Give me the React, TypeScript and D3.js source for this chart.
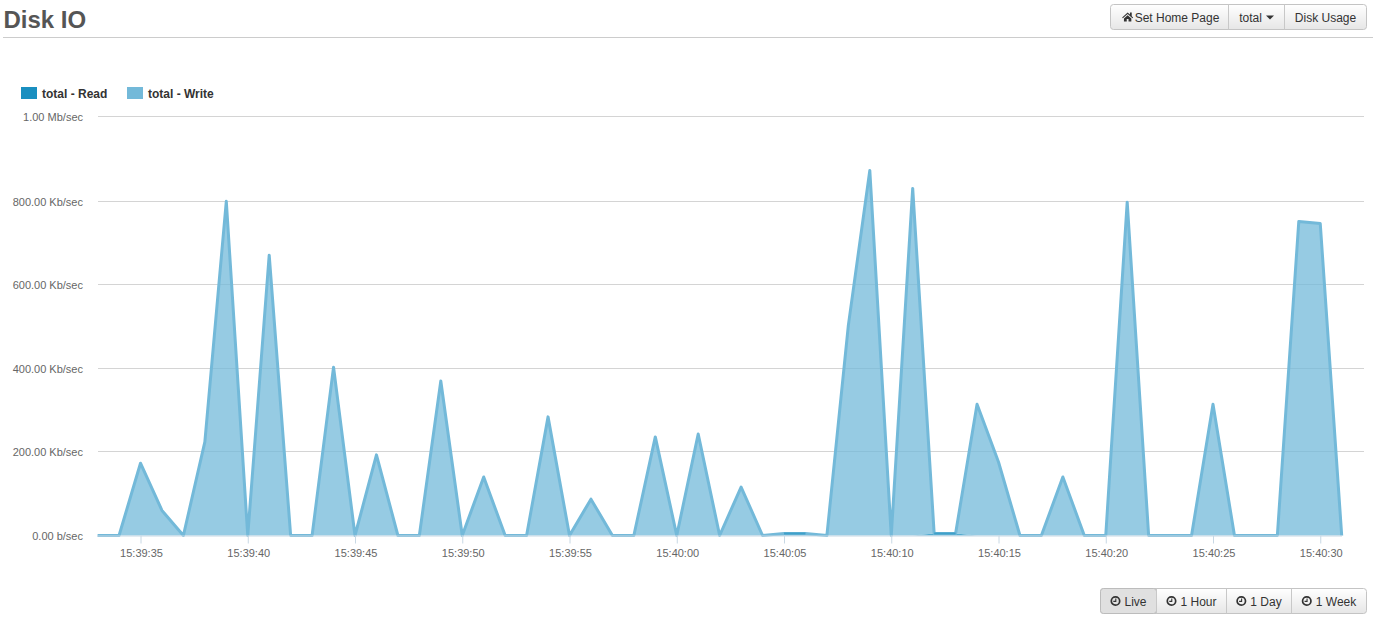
import React, { useRef, useEffect } from "react"
import * as d3 from "d3"

const startSecond = 33 // first sample is 15:39:33
const readKb = [
  0, 0, 0, 0, 0, 0, 0, 0, 0, 0, 0, 0, 0, 0, 0, 0, 0, 0, 0, 0,
  0, 0, 0, 0, 0, 0, 0, 0, 0, 0, 0, 0, 5, 5, 0, 0, 0, 0, 0, 5,
  5, 0, 0, 0, 0, 0, 0, 0, 0, 0, 0, 0, 0, 0, 0, 0, 0, 0, 0,
]
const writeKb = [
  0, 0, 173, 60, 0, 224, 800, 0, 671, 0, 0, 403, 0, 193, 0, 0, 370, 0, 140, 0,
  0, 284, 0, 87, 0, 0, 236, 0, 243, 0, 116, 0, 0, 0, 0, 503, 874, 0, 831, 0,
  0, 314, 176, 0, 0, 140, 0, 0, 798, 0, 0, 0, 314, 0, 0, 0, 752, 747, 0,
]
// the top tick sits a little above the even spacing in the picture
const yTicks = [0, 200, 400, 600, 800, 1002]
const xTickSeconds = [35, 40, 45, 50, 55, 60, 65, 70, 75, 80, 85, 90]
const topButtons = ["Set Home Page", "total", "Disk Usage"]
const topButtonEdges = [1110.5, 1228.5, 1284.5, 1366.5]
const rangeButtons = ["Live", "1 Hour", "1 Day", "1 Week"]
const rangeButtonEdges = [1100.5, 1156.5, 1226.5, 1291.5, 1366.5]

const sans = "'Liberation Sans', Arial, sans-serif"
const readColor = "#1a8fc0"
const writeColor = "#73b9d9"

const formatRate = (kb: number) =>
  kb >= 1000 ? `${(kb / 1000).toFixed(2)} Mb/sec` : kb === 0 ? "0.00 b/sec" : `${kb.toFixed(2)} Kb/sec`

const formatClock = (s: number) => {
  const minute = 39 + Math.floor(s / 60)
  return `15:${minute}:${String(s % 60).padStart(2, "0")}`
}

// bootstrap 3 style button group
const drawGroup = (
  svg: d3.Selection<SVGSVGElement, unknown, null, undefined>,
  labels: string[],
  edges: number[],
  top: number,
  activeIndex: number,
  trailing: number[],
  icon: (g: d3.Selection<SVGGElement, unknown, null, undefined>, i: number, cy: number) => number
) => {
  const height = 25
  const group = svg.append("g")
  const id = `grad-${top}`
  const grad = svg.append("defs").append("linearGradient").attr("id", id).attr("x2", 0).attr("y2", 1)
  grad.append("stop").attr("offset", 0).attr("stop-color", "#ffffff")
  grad.append("stop").attr("offset", 1).attr("stop-color", "#e6e6e6")

  group
    .append("rect")
    .attr("x", edges[0])
    .attr("y", top)
    .attr("width", edges[edges.length - 1] - edges[0])
    .attr("height", height)
    .attr("rx", 3)
    .attr("fill", `url(#${id})`)
    .attr("stroke", "#c4c4c4")

  labels.forEach((label, i) => {
    const x0 = edges[i]
    const x1 = edges[i + 1]
    if (i === activeIndex) {
      group
        .append("rect")
        .attr("x", x0)
        .attr("y", top)
        .attr("width", x1 - x0)
        .attr("height", height)
        .attr("rx", 3)
        .attr("fill", "#e0e0e0")
        .attr("stroke", "#bcbcbc")
    }
    if (i > 0) {
      group
        .append("line")
        .attr("x1", x0)
        .attr("x2", x0)
        .attr("y1", top)
        .attr("y2", top + height)
        .attr("stroke", "#c8c8c8")
    }
    const g = group.append("g").attr("transform", `translate(${(x0 + x1) / 2},0)`)
    const text = g
      .append("text")
      .attr("y", top + 17)
      .attr("font-family", sans)
      .attr("font-size", 12)
      .attr("fill", "#333")
      .text(label)
    const textWidth = (text.node() as SVGTextElement).getComputedTextLength()
    const extra = icon(g, i, top + height / 2)
    const left = -(textWidth + extra + trailing[i]) / 2
    g.selectAll(".icon").attr("transform", `translate(${left},0)`)
    text.attr("x", left + extra)
  })
}

const App: React.FC = () => {
  const svgRef = useRef<SVGSVGElement | null>(null)

  useEffect(() => {
    if (!svgRef.current) return
    const svg = d3.select(svgRef.current)
    svg.selectAll("*").remove()

    const x = d3
      .scaleLinear()
      .domain([startSecond, startSecond + writeKb.length - 1])
      .range([97.6, 1341.7])
    const y = d3.scaleLinear().domain([0, 1000]).range([535.5, 117.8])

    // header
    svg
      .append("text")
      .attr("x", 3.5)
      .attr("y", 28)
      .attr("font-family", sans)
      .attr("font-size", 24)
      .attr("font-weight", "bold")
      .attr("fill", "#555")
      .text("Disk IO")
    svg
      .append("line")
      .attr("x1", 3)
      .attr("x2", 1373)
      .attr("y1", 37.5)
      .attr("y2", 37.5)
      .attr("stroke", "#ccc")

    drawGroup(svg, topButtons, topButtonEdges, 4.5, -1, [0, 12, 0], (g, i, cy) => {
      if (i === 0) {
        g.append("path")
          .attr("class", "icon")
          .attr(
            "d",
            `M2.5 ${cy + 0.5}L8 ${cy - 4.5}L10.3 ${cy - 2.4}V${cy - 4.5}H12.1V${cy - 0.8}L13.5 ${cy + 0.5}L12.8 ${cy + 1.2}L8 ${cy - 3}L3.2 ${cy + 1.2}ZM4.3 ${cy + 1.5}L8 ${cy - 1.8}L11.7 ${cy + 1.5}V${cy + 4.5}H8.9V${cy + 2}H7.1V${cy + 4.5}H4.3Z`
          )
          .attr("fill", "#333")
        return 15
      }
      return 0
    })

    // caret of the "total" dropdown
    svg.append("path").attr("d", "M1266 15.5h8l-4 4z").attr("fill", "#333")

    drawGroup(svg, rangeButtons, rangeButtonEdges, 588.5, 0, [0, 0, 0, 0], (g, _i, cy) => {
      const ic = g.append("g").attr("class", "icon")
      ic.append("circle")
        .attr("cx", 5)
        .attr("cy", cy)
        .attr("r", 4.2)
        .attr("fill", "none")
        .attr("stroke", "#333")
        .attr("stroke-width", 1.7)
      ic.append("path")
        .attr("d", `M5.3 ${cy - 2.4}V${cy + 0.4}H2.8`)
        .attr("fill", "none")
        .attr("stroke", "#333")
        .attr("stroke-width", 1.1)
      return 14
    })

    // legend
    const legend = [
      { label: "total - Read", color: readColor, x: 21 },
      { label: "total - Write", color: writeColor, x: 127 },
    ]
    legend.forEach((d) => {
      svg
        .append("rect")
        .attr("x", d.x)
        .attr("y", 87)
        .attr("width", 16)
        .attr("height", 12)
        .attr("fill", d.color)
      svg
        .append("text")
        .attr("x", d.x + 21)
        .attr("y", 98)
        .attr("font-family", sans)
        .attr("font-size", 12)
        .attr("font-weight", "bold")
        .attr("fill", "#333")
        .text(d.label)
    })

    // grid goes under the areas
    svg
      .append("g")
      .selectAll("line")
      .data(yTicks.slice(1))
      .enter()
      .append("line")
      .attr("x1", 98)
      .attr("x2", 1364)
      .attr("y1", (d) => Math.floor(y(d)) + 0.5)
      .attr("y2", (d) => Math.floor(y(d)) + 0.5)
      .attr("stroke", "#d4d4d4")

    // stacked areas
    const seconds = writeKb.map((_, i) => startSecond + i)
    const area = d3
      .area<number>()
      .x((s) => x(s))
      .y0((s) => y(readKb[s - startSecond]))
      .y1((s) => y(readKb[s - startSecond] + writeKb[s - startSecond]))
    const readArea = d3
      .area<number>()
      .x((s) => x(s))
      .y0(y(0))
      .y1((s) => y(readKb[s - startSecond]))
    const writeLine = d3
      .line<number>()
      .x((s) => x(s))
      .y((s) => y(readKb[s - startSecond] + writeKb[s - startSecond]))
    // read is only drawn where it is above zero
    const readLine = d3
      .line<number>()
      .defined((s) => readKb[s - startSecond] > 0)
      .x((s) => x(s))
      .y((s) => y(readKb[s - startSecond]))

    svg.append("path").attr("d", readArea(seconds)).attr("fill", readColor).attr("fill-opacity", 0.75)
    svg.append("path").attr("d", area(seconds)).attr("fill", writeColor).attr("fill-opacity", 0.75)

    svg
      .append("path")
      .attr("d", writeLine(seconds))
      .attr("fill", "none")
      .attr("stroke", writeColor)
      .attr("stroke-width", 3)
      .attr("stroke-linejoin", "round")
    svg
      .append("path")
      .attr("d", readLine(seconds))
      .attr("fill", "none")
      .attr("stroke", readColor)
      .attr("stroke-width", 2)
      .attr("stroke-opacity", 0.6)

    // Y axis
    const yAxis = svg
      .append("g")
      .attr("transform", "translate(98,0)")
      .call(
        d3
          .axisLeft(y)
          .tickValues(yTicks)
          .tickFormat((d) => formatRate(+d))
          .tickSize(0)
          .tickPadding(15)
      )
    yAxis.select(".domain").remove()
    yAxis.selectAll("text").attr("font-family", sans).attr("font-size", 11).attr("fill", "#666").attr("y", 0.5)

    // X axis
    const xAxis = svg
      .append("g")
      .attr("transform", "translate(0,535.5)")
      .call(
        d3
          .axisBottom(x)
          .tickValues(xTickSeconds)
          .tickFormat((d) => formatClock(+d))
          .tickSize(8)
          .tickPadding(6)
      )
    xAxis.select(".domain").attr("stroke", "#c8d8e4").attr("d", "M97.6,0.5H1342")
    xAxis.selectAll("line").attr("stroke", "#c8d8e4")
    xAxis.selectAll("text").attr("font-family", sans).attr("font-size", 11).attr("fill", "#666").attr("dx", 0.5)
  }, [])

  return (
    <svg
      ref={svgRef}
      width={1373}
      height={618}
      style={{ position: "absolute", left: 0, top: 0, display: "block" }}
    ></svg>
  )
}

export default App
